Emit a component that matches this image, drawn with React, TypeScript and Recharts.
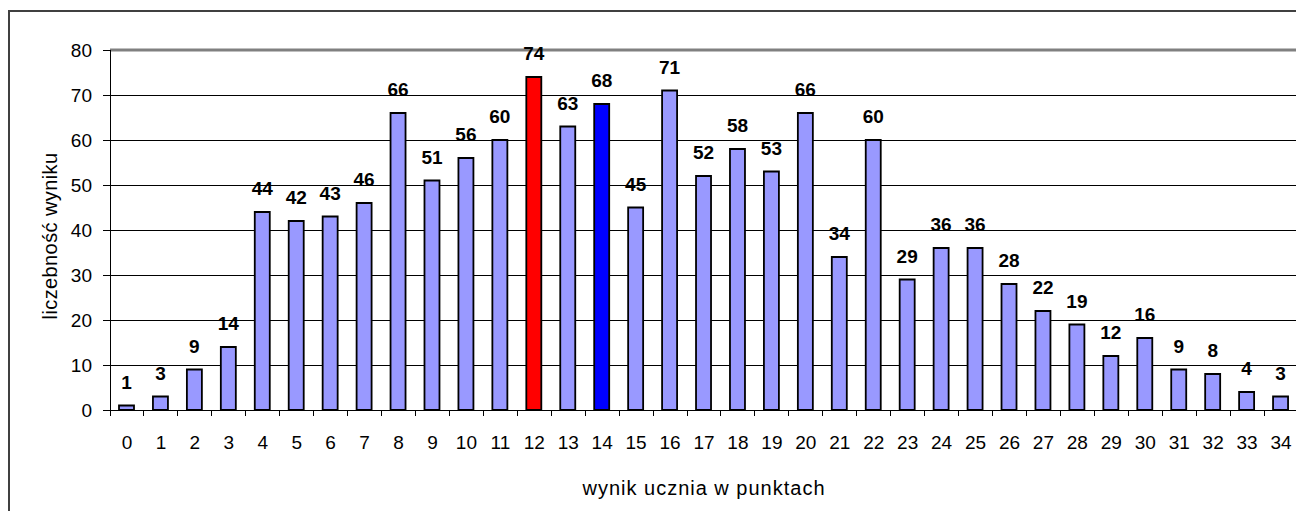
import React from 'react';
import { BarChart, Bar, XAxis, YAxis, CartesianGrid, LabelList, Cell, ReferenceLine } from 'recharts';

const scores = [
  '0', '1', '2', '3', '4', '5', '6', '7', '8', '9', '10', '11', '12', '13', '14', '15', '16', '17',
  '18', '19', '20', '21', '22', '23', '24', '25', '26', '27', '28', '29', '30', '31', '32', '33', '34',
];
const counts = [
  1, 3, 9, 14, 44, 42, 43, 46, 66, 51, 56, 60, 74, 63, 68, 45, 71, 52,
  58, 53, 66, 34, 60, 29, 36, 36, 28, 22, 19, 12, 16, 9, 8, 4, 3,
];
const yTicks = [0, 10, 20, 30, 40, 50, 60, 70, 80];
// wyróżnione słupki: 12 (czerwony) i 14 (niebieski)
const highlight: { [key: string]: string } = { '12': '#ff0000', '14': '#0000ff' };

const data = scores.map((s, i) => ({ score: s, count: counts[i] }));

const font = '"Liberation Sans", Arial, sans-serif';
const TICK_SIZE = 6;
const TICK_MARGIN = 20;

// kreski osi X między kategoriami (jak w Excelu), podpis na środku
const ScoreTick = (props: any) => {
  const { x, y, payload } = props;
  const half = payload?.offset ?? 17;
  const axisY = y - TICK_SIZE - TICK_MARGIN;
  return (
    <g>
      <line x1={x - half} x2={x - half} y1={axisY} y2={axisY + TICK_SIZE} stroke="#000" shapeRendering="crispEdges" />
      <line x1={x + half} x2={x + half} y1={axisY} y2={axisY + TICK_SIZE} stroke="#000" shapeRendering="crispEdges" />
      <text x={x} y={y} dy="0.71em" textAnchor="middle" fill="#000" fontSize={19} fontFamily={font}>
        {payload.value}
      </text>
    </g>
  );
};

const App: React.FC = () => {
  return (
    <div
      style={{
        marginTop: 2,
        width: 1296,
        height: 501,
        boxSizing: 'border-box',
        borderTop: '2px solid #404040',
        borderLeft: '2px solid #404040',
        background: '#fff',
        fontFamily: font,
      }}
    >
      <style>{'body{overflow:hidden} .recharts-cartesian-grid line, .recharts-cartesian-axis-line, .recharts-cartesian-axis-tick-line{shape-rendering:crispEdges}'}</style>
      <BarChart
        width={1294}
        height={499}
        data={data}
        margin={{ top: 38, right: 6, left: 0, bottom: 0 }}
        barCategoryGap={0}
      >
        <CartesianGrid horizontal vertical={false} stroke="#000" strokeWidth={1} />
        <XAxis
          dataKey="score"
          height={101}
          interval={0}
          tickSize={TICK_SIZE}
          tickMargin={TICK_MARGIN}
          tickLine={false}
          stroke="#000"
          tick={<ScoreTick />}
          label={{ value: 'wynik ucznia w punktach', position: 'insideBottom', offset: 16, fill: '#000', fontSize: 20, fontFamily: font, letterSpacing: 1 }}
        />
        <YAxis
          width={100}
          domain={[0, 80]}
          ticks={yTicks}
          interval={0}
          tickSize={7}
          tickMargin={11}
          stroke="#000"
          tick={{ fill: '#000', fontSize: 19, fontFamily: font }}
          label={{ value: 'liczebność wyniku', angle: -90, position: 'insideLeft', offset: 40, dy: 6, fill: '#000', fontSize: 20, fontFamily: font, letterSpacing: 0.4, style: { textAnchor: 'middle' } }}
        />
        <YAxis
          yAxisId="right"
          orientation="right"
          width={0}
          domain={[0, 80]}
          tick={false}
          tickLine={false}
          axisLine={{ stroke: '#808080', strokeWidth: 3 }}
        />
        <ReferenceLine y={80} stroke="#808080" strokeWidth={3} />
        <Bar dataKey="count" barSize={15} stroke="#000" strokeWidth={1.8} isAnimationActive={false}>
          {data.map((d) => (
            <Cell key={d.score} fill={highlight[d.score] || '#9999ff'} />
          ))}
          <LabelList
            dataKey="count"
            position="top"
            offset={17}
            fill="#000"
            fontSize={19}
            fontWeight="bold"
            fontFamily={font}
          />
        </Bar>
      </BarChart>
    </div>
  );
};

export default App;
